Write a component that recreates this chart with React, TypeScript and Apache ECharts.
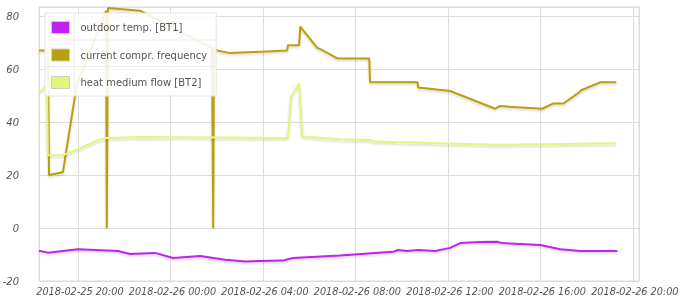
import React, { useEffect, useRef } from 'react';
import * as echarts from 'echarts';

const seriesNames = ['outdoor temp. [BT1]', 'current compr. frequency', 'heat medium flow [BT2]'];
const seriesColors = ['#bd22f0', '#b8a00c', '#e4f67a'];

const outdoorTimes = [
  '2018-02-25 18:19', '2018-02-25 18:42', '2018-02-25 20:00', '2018-02-25 21:44', '2018-02-25 22:15',
  '2018-02-25 23:20', '2018-02-26 00:07', '2018-02-26 01:17', '2018-02-26 02:22', '2018-02-26 03:14',
  '2018-02-26 04:52', '2018-02-26 05:18', '2018-02-26 07:20', '2018-02-26 09:38', '2018-02-26 09:51',
  '2018-02-26 10:14', '2018-02-26 10:43', '2018-02-26 11:27', '2018-02-26 12:06', '2018-02-26 12:32',
  '2018-02-26 13:24', '2018-02-26 14:08', '2018-02-26 14:21', '2018-02-26 16:00', '2018-02-26 16:52',
  '2018-02-26 17:44', '2018-02-26 19:20',
];
const outdoorValues = [
  -8.6, -9.3, -8, -8.7, -9.8,
  -9.4, -11.3, -10.6, -12, -12.6,
  -12.3, -11.3, -10.4, -9, -8.3,
  -8.7, -8.3, -8.7, -7.5, -5.7,
  -5.3, -5.2, -5.7, -6.4, -8,
  -8.7, -8.7,
];

const compressorTimes = [
  '2018-02-25 18:19', '2018-02-25 18:42', '2018-02-25 18:45', '2018-02-25 19:21', '2018-02-25 19:57',
  '2018-02-25 21:13', '2018-02-25 21:15', '2018-02-25 21:18', '2018-02-25 22:41', '2018-02-26 01:48',
  '2018-02-26 01:51', '2018-02-26 01:53', '2018-02-26 02:01', '2018-02-26 02:35', '2018-02-26 05:03',
  '2018-02-26 05:05', '2018-02-26 05:34', '2018-02-26 05:37', '2018-02-26 06:21', '2018-02-26 06:29',
  '2018-02-26 07:13', '2018-02-26 08:36', '2018-02-26 08:38', '2018-02-26 10:41', '2018-02-26 10:43',
  '2018-02-26 12:06', '2018-02-26 14:03', '2018-02-26 14:14', '2018-02-26 16:05', '2018-02-26 16:34',
  '2018-02-26 17:00', '2018-02-26 17:39', '2018-02-26 17:46', '2018-02-26 18:36', '2018-02-26 19:17',
];
const compressorValues = [
  67, 67, 20, 21, 54,
  82, 0, 83, 82, 68,
  0, 68, 67, 66, 67,
  69, 69, 76, 68, 67.5,
  64, 64, 55, 55, 53,
  51.7, 45, 46, 45, 47,
  47, 51, 52, 55, 55,
];

const flowTimes = [
  '2018-02-25 18:19', '2018-02-25 18:40', '2018-02-25 18:42', '2018-02-25 19:21', '2018-02-25 20:05',
  '2018-02-25 20:49', '2018-02-25 21:15', '2018-02-25 22:41', '2018-02-26 05:05', '2018-02-26 05:13',
  '2018-02-26 05:34', '2018-02-26 05:42', '2018-02-26 07:20', '2018-02-26 08:39', '2018-02-26 08:54',
  '2018-02-26 14:03', '2018-02-26 19:17',
];
const flowValues = [
  51, 54, 27.5, 27.5, 30,
  33, 34, 34.3, 34, 49.5,
  54.5, 34.5, 33.5, 33.2, 32.6,
  31.4, 32,
];

const axisStart = '2018-02-25 18:19';
const axisEnd = '2018-02-26 20:16';
const yMin = -20;
const yMax = 83.4;
const yStep = 20;
const xStepHours = 4;

const toMs = (s: string) => new Date(s.replace(' ', 'T') + ':00').getTime();
const pad = (n: number) => (n < 10 ? '0' + n : '' + n);

export default function App() {
  const ref = useRef<HTMLDivElement>(null);
  useEffect(() => {
    if (!ref.current) return;
    const chart = echarts.init(ref.current, undefined, { renderer: 'svg' });
    const labelFont = { fontFamily: 'DejaVu Sans', fontSize: 10, fontStyle: 'italic' as const, color: '#545454' };
    const lineSeries = [
      [outdoorTimes, outdoorValues],
      [compressorTimes, compressorValues],
      [flowTimes, flowValues],
    ].map(([times, values], i) => ({
      name: seriesNames[i],
      type: 'line',
      symbol: 'none',
      showSymbol: false,
      color: seriesColors[i],
      lineStyle: {
        width: 2,
        color: seriesColors[i],
        shadowColor: 'rgba(0,0,0,0.18)',
        shadowBlur: 2,
        shadowOffsetY: 1.5,
      },
      data: (times as string[]).map((t, k) => [toMs(t), (values as number[])[k]]),
      z: 2,
    }));
    chart.setOption({
      animation: false,
      grid: {
        left: 39, right: 41, top: 7, bottom: 19,
        show: true, borderColor: '#dcdcdc', borderWidth: 1,
        outerBoundsMode: 'none',
      },
      xAxis: {
        type: 'time',
        min: toMs(axisStart),
        max: toMs(axisEnd),
        minInterval: xStepHours * 3600 * 1000,
        maxInterval: xStepHours * 3600 * 1000,
        axisLine: { show: false },
        axisTick: { show: false },
        splitLine: { show: true, lineStyle: { color: '#dcdcdc', width: 1 } },
        axisLabel: {
          ...labelFont,
          fontSize: 9.7,
          margin: 5,
          interval: 0,
          hideOverlap: false,
          padding: [0, 0, 0, 4],
          formatter: (v: number) => {
            const d = new Date(v);
            if (d.getMinutes() !== 0 || d.getHours() % xStepHours !== 0) return '';
            return `${d.getFullYear()}-${pad(d.getMonth() + 1)}-${pad(d.getDate())} ${pad(d.getHours())}:${pad(d.getMinutes())}`;
          },
        },
      },
      yAxis: {
        type: 'value',
        min: yMin,
        max: yMax,
        interval: yStep,
        axisLine: { show: false },
        axisTick: { show: false },
        splitLine: { show: true, lineStyle: { color: '#dcdcdc', width: 1 } },
        axisLabel: {
          ...labelFont,
          margin: 20,
          showMaxLabel: false,
          formatter: (v: number) => (v % yStep === 0 ? String(v) : ''),
        },
      },
      legend: {
        orient: 'vertical',
        left: 45,
        top: 13,
        padding: [8, 9, 7, 6],
        itemWidth: 18,
        itemHeight: 12,
        itemGap: 14.5,
        icon: 'rect',
        backgroundColor: 'rgba(255,255,255,0.88)',
        borderColor: '#e4e4e4',
        borderWidth: 1,
        itemStyle: { borderColor: '#cccccc', borderWidth: 1 },
        textStyle: { fontFamily: 'DejaVu Sans', fontSize: 10, color: '#545454', padding: [0, 0, 0, 6] },
        data: seriesNames,
        selectedMode: false,
        z: 10,
      },
      graphic: [
        { type: 'line', z: 20, shape: { x1: 45, y1: 40, x2: 216, y2: 40 }, style: { stroke: '#ececec', lineWidth: 1 } },
        { type: 'line', z: 20, shape: { x1: 45, y1: 66.5, x2: 216, y2: 66.5 }, style: { stroke: '#ececec', lineWidth: 1 } },
        { type: 'line', z: 20, shape: { x1: 74, y1: 13, x2: 74, y2: 93 }, style: { stroke: '#ececec', lineWidth: 1 } },
      ],
      series: lineSeries,
    });
    return () => chart.dispose();
  }, []);
  return <div ref={ref} style={{ position: 'fixed', left: 0, top: 0, width: 680, height: 300 }} />;
}
